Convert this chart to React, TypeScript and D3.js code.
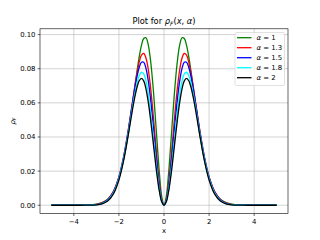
import React from "react";
import * as d3 from "d3";

const xs = [-5,-4,-3.5,-3,-2.75,-2.5,-2.25,-2,-1.8,-1.6,-1.5,-1.4,-1.3,-1.2,-1.1,-1,-0.9,-0.8,-0.7,-0.6,-0.5,-0.4,-0.3,-0.2,-0.1,0,0.1,0.2,0.3,0.4,0.5,0.6,0.7,0.8,0.9,1,1.1,1.2,1.3,1.4,1.5,1.6,1.8,2,2.25,2.5,2.75,3,3.5,4,5];

const alpha1 = [0,0.00001,0.00008,0.00059,0.00149,0.00352,0.00776,0.01579,0.02619,0.04071,0.04946,0.05892,0.06869,0.07825,0.0869,0.09368,0.09776,0.09816,0.0941,0.08524,0.07177,0.05467,0.03586,0.01814,0.00501,0,0.00501,0.01814,0.03586,0.05467,0.07177,0.08524,0.0941,0.09816,0.09776,0.09368,0.0869,0.07825,0.06869,0.05892,0.04946,0.04071,0.02619,0.01579,0.00776,0.00352,0.00149,0.00059,0.00008,0.00001,0];
const alpha13 = [0,0,0.00005,0.00047,0.00133,0.00341,0.00795,0.01667,0.02782,0.04285,0.05151,0.06051,0.06933,0.07734,0.0838,0.08791,0.08894,0.08629,0.07977,0.0695,0.05616,0.04101,0.02576,0.01249,0.00332,0,0.00332,0.01249,0.02576,0.04101,0.05616,0.0695,0.07977,0.08629,0.08894,0.08791,0.0838,0.07734,0.06933,0.06051,0.05151,0.04285,0.02782,0.01667,0.00795,0.00341,0.00133,0.00047,0.00005,0,0];
const alpha15 = [0,0,0.00003,0.00038,0.00115,0.00312,0.00757,0.01628,0.02745,0.0424,0.0509,0.05955,0.06787,0.07517,0.08069,0.0838,0.08376,0.08024,0.07313,0.06276,0.04993,0.03588,0.02219,0.0106,0.00278,0,0.00278,0.0106,0.02219,0.03588,0.04993,0.06276,0.07313,0.08024,0.08376,0.0838,0.08069,0.07517,0.06787,0.05955,0.0509,0.0424,0.02745,0.01628,0.00757,0.00312,0.00115,0.00038,0.00003,0,0];
const alpha18 = [0,0,0.00002,0.00031,0.001,0.00284,0.00714,0.0157,0.02667,0.04118,0.04926,0.05738,0.06497,0.07137,0.07591,0.07793,0.07698,0.0728,0.06543,0.05535,0.04339,0.03073,0.01874,0.00884,0.0023,0,0.0023,0.00884,0.01874,0.03073,0.04339,0.05535,0.06543,0.0728,0.07698,0.07793,0.07591,0.07137,0.06497,0.05738,0.04926,0.04118,0.02667,0.0157,0.00714,0.00284,0.001,0.00031,0.00002,0,0];
const alpha2 = [0,0,0.00001,0.00022,0.00079,0.00244,0.00648,0.01481,0.02565,0.04001,0.04795,0.05584,0.06305,0.06899,0.07296,0.07438,0.07287,0.06824,0.0607,0.05079,0.03937,0.02757,0.01663,0.00777,0.002,0,0.002,0.00777,0.01663,0.02757,0.03937,0.05079,0.0607,0.06824,0.07287,0.07438,0.07296,0.06899,0.06305,0.05584,0.04795,0.04001,0.02565,0.01481,0.00648,0.00244,0.00079,0.00022,0.00001,0,0];

const seriesLabels = ["1", "1.3", "1.5", "1.8", "2"];
const seriesValues = [alpha1, alpha13, alpha15, alpha18, alpha2];
const seriesColors = ["green", "red", "blue", "cyan", "black"];

const xTicks = [-4, -2, 0, 2, 4];
const yTicks = [0, 0.02, 0.04, 0.06, 0.08, 0.1];

const W = 320, H = 240;
const L = 40, R = 288, T = 28.8, B = 213.6;
const FONT = "DejaVu Sans";

export default function App() {
  const x = d3.scaleLinear().domain([-5.5, 5.5]).range([L, R]);
  const y = d3.scaleLinear().domain([-0.0049, 0.1034]).range([B, T]);
  const line = d3
    .line<number>()
    .x((_, i) => x(xs[i]))
    .y((d) => y(d))
    .curve(d3.curveCatmullRom.alpha(0.5));

  const fmtY = d3.format(".2f");
  const fmtX = (v: number) => (v < 0 ? "\u2212" + Math.abs(v) : String(v));

  const legX = 235, legY = 32.5, legW = 49.5, legH = 53;

  return (
    <svg
      width={W}
      height={H}
      style={{ position: "absolute", left: 0, top: 0, background: "#fff" }}
      fontFamily={FONT}
    >
      <rect x={0} y={0} width={W} height={H} fill="#fff" />
      {xTicks.map((t) => (
        <line key={"gx" + t} x1={x(t)} x2={x(t)} y1={T} y2={B} stroke="#b0b0b0" strokeOpacity={0.7} strokeWidth={0.8} />
      ))}
      {yTicks.map((t) => (
        <line key={"gy" + t} x1={L} x2={R} y1={y(t)} y2={y(t)} stroke="#b0b0b0" strokeOpacity={0.7} strokeWidth={0.8} />
      ))}
      <g>
        {seriesValues.map((vals, i) => (
          <path key={i} d={line(vals) || ""} fill="none" stroke={seriesColors[i]} strokeWidth={1.3} />
        ))}
      </g>
      <rect x={L} y={T} width={R - L} height={B - T} fill="none" stroke="#000" strokeWidth={0.6} />
      {xTicks.map((t) => (
        <g key={"xt" + t}>
          <line x1={x(t)} x2={x(t)} y1={B} y2={B + 2.4} stroke="#000" strokeWidth={0.6} />
          <text x={x(t)} y={224} fontSize={6.9} textAnchor="middle" fill="#000">
            {fmtX(t)}
          </text>
        </g>
      ))}
      {yTicks.map((t) => (
        <g key={"yt" + t}>
          <line x1={L - 2.4} x2={L} y1={y(t)} y2={y(t)} stroke="#000" strokeWidth={0.6} />
          <text x={35.5} y={y(t) + 2.5} fontSize={6.9} textAnchor="end" fill="#000">
            {fmtY(t)}
          </text>
        </g>
      ))}
      <text x={(L + R) / 2} y={232.5} fontSize={6.9} textAnchor="middle" fill="#000">x</text>
      <text transform={`translate(14.5,121) rotate(-90)`} fontSize={6.9} textAnchor="middle" fill="#000">
        <tspan fontStyle="italic">ρ</tspan>
        <tspan fontStyle="italic" fontSize={4.9} dy={1.5}>F</tspan>
      </text>
      <text x={(L + R) / 2} y={24} fontSize={8.3} textAnchor="middle" fill="#000">
        <tspan>Plot for </tspan>
        <tspan fontStyle="italic">ρ</tspan>
        <tspan fontStyle="italic" fontSize={5.8} dy={1.8}>F</tspan>
        <tspan dy={-1.8}>(</tspan>
        <tspan fontStyle="italic">x</tspan>
        <tspan>, </tspan>
        <tspan fontStyle="italic">α</tspan>
        <tspan>)</tspan>
      </text>
      <rect x={legX} y={legY} width={legW} height={legH} rx={1.5} fill="#fff" fillOpacity={0.8} stroke="#cccccc" strokeWidth={0.6} />
      {seriesLabels.map((lab, i) => {
        const cy = 37.7 + i * 10;
        return (
          <g key={"lg" + i}>
            <line x1={237} x2={251.5} y1={cy} y2={cy} stroke={seriesColors[i]} strokeWidth={1.3} />
            <text x={256.5} y={cy + 2.4} fontSize={6.9} fill="#000">
              <tspan fontStyle="italic">α</tspan>
              <tspan> = {lab}</tspan>
            </text>
          </g>
        );
      })}
    </svg>
  );
}
